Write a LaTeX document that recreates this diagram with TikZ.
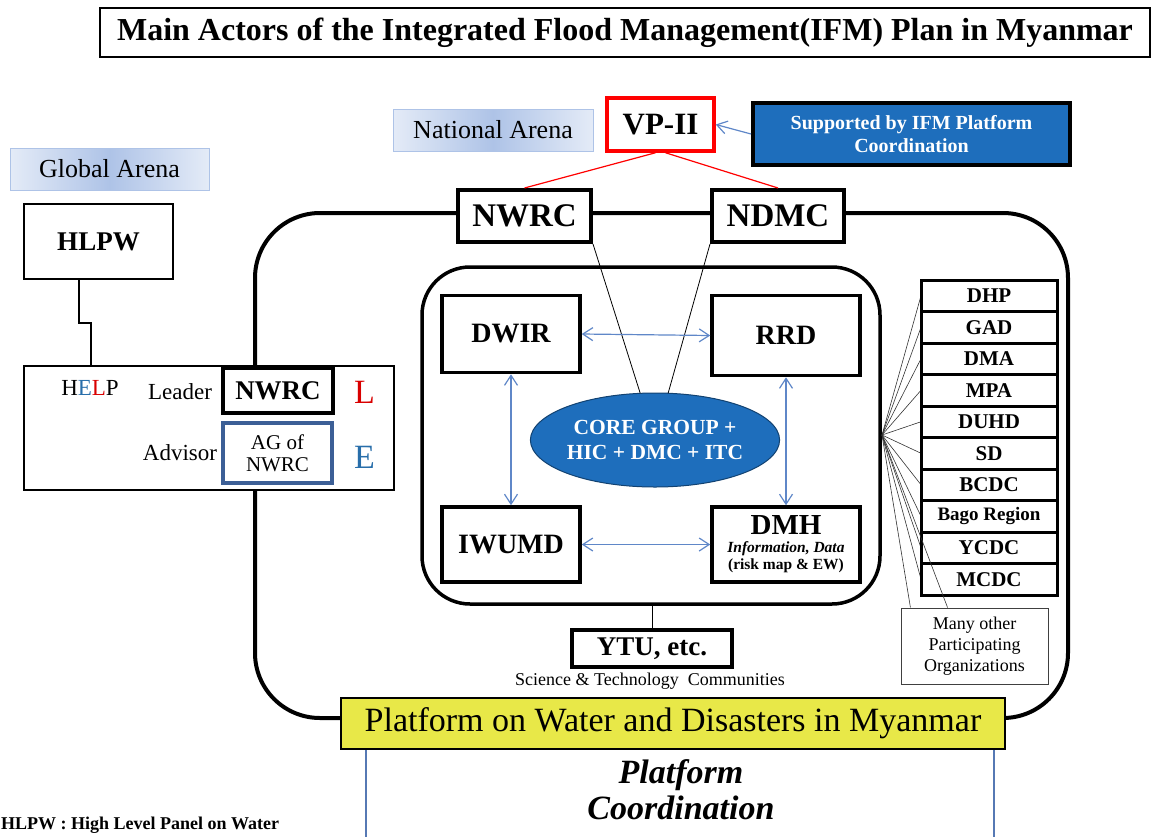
\documentclass[tikz,border=0pt]{standalone}
\usepackage{fontspec}
\setmainfont{Liberation Serif}
\usepackage{tikz}
\usetikzlibrary{arrows.meta, shapes.geometric}
\definecolor{ifmblue}{RGB}{30,110,188}
\definecolor{linkblue}{RGB}{95,135,200}
\definecolor{arenablue}{RGB}{120,155,215}
\definecolor{advblue}{RGB}{60,95,150}
\definecolor{eblue}{RGB}{40,110,170}
\definecolor{platyellow}{RGB}{232,232,72}
\colorlet{helpred}{red!85!black}
\newcommand{\fsz}[2]{\fontsize{#1}{#2}\selectfont}
\tikzset{>={Straight Barb[length=10pt,width=13pt]}}

\begin{document}
\begin{tikzpicture}[x=1pt, y=-1pt,
  box/.style={draw, fill=white, inner sep=0pt, align=center},
  bigbox/.style={box, line width=4pt, font=\fsz{33}{36}\bfseries},
  unit/.style={box, line width=3.5pt, font=\fsz{28}{30}\bfseries},
  org/.style={box, line width=3pt, minimum width=136pt, minimum height=31.5pt, font=\fsz{21}{22}\bfseries},
  arena/.style={draw=arenablue!60, line width=1pt, inner sep=0pt, minimum height=42pt,
    left color=arenablue!20, right color=arenablue!20, middle color=arenablue!60, font=\fsz{26}{28}},
  link/.style={linkblue, line width=1.2pt},
  fan/.style={black!80, line width=0.6pt}]

\useasboundingbox (0,0) rectangle (1157,836);

% Title
\node[box, line width=1.3pt, minimum width=1050pt, minimum height=49pt, font=\fsz{32}{34}\bfseries] (title) at (625,32.5)
  {Main Actors of the Integrated Flood Management(IFM) Plan in Myanmar};

% Outer platform frame and inner core frame
\draw[line width=4pt, rounded corners=65pt] (255,213) rectangle (1068,718);
\draw[line width=3.5pt, rounded corners=48pt] (422,267) rectangle (880,604);

% Arenas
\node[arena, minimum width=199pt] (global) at (109.5,169) {Global Arena};
\node[arena, minimum width=200pt] (national) at (493,130) {National Arena};

% Global side
\node[box, line width=1.5pt, minimum width=149pt, minimum height=75pt, font=\fsz{27}{29}\bfseries] (hlpw) at (98.5,241.5) {HLPW};
\node[box, line width=1.5pt, minimum width=370pt, minimum height=124pt] (help) at (209,428) {};
\node[font=\fsz{23}{24}] (helptxt) at (90,388) {H\textcolor{eblue}{E}\textcolor{helpred}{L}P};
\node[font=\fsz{23}{25}] (leader) at (180,392) {Leader};
\node[box, line width=4pt, minimum width=110pt, minimum height=45pt, font=\fsz{27}{29}\bfseries] (lead) at (278,390.5) {NWRC};
\node[font=\fsz{34}{36}, text=helpred] (ltxt) at (364.5,392) {L};
\node[font=\fsz{23}{25}] (advisor) at (180,453) {Advisor};
\node[box, draw=advblue, line width=4pt, minimum width=109pt, minimum height=60pt, font=\fsz{21}{22}] (ag) at (277.5,453) {AG of\\NWRC};
\node[font=\fsz{34}{36}, text=eblue] (etxt) at (364.5,457) {E};

\coordinate (jogtop) at (79,323);
\coordinate (jogbot) at (91,323);
\draw[line width=1.3pt] (hlpw.south -| jogtop) -- (jogtop) -- (jogbot) -- (help.north -| jogbot);

% National level
\node[box, draw=red, line width=3.5pt, minimum width=107pt, minimum height=53pt, font=\fsz{31}{33}\bfseries] (vp) at (660.5,124.5) {VP-II};
\node[box, fill=ifmblue, line width=4pt, minimum width=317pt, minimum height=62pt, text=white, font=\fsz{20}{23}\bfseries] (support) at (911.5,134)
  {Supported by IFM Platform\\Coordination};
\node[bigbox, minimum width=133pt, minimum height=52pt] (nwrc) at (524.5,216) {NWRC};
\node[bigbox, minimum width=132pt, minimum height=52pt] (ndmc) at (778,216) {NDMC};

\draw[link, ->] (support.west) -- (vp.east);
\draw[red, line width=1.2pt] (vp.-100) -- (nwrc.north);
\draw[red, line width=1.2pt] (vp.-80) -- (ndmc.north);

% Core group
\draw[line width=0.8pt] (nwrc.south east) -- (655,440);
\draw[line width=0.8pt] (ndmc.south west) -- (655,440);
\node[ellipse, fill=ifmblue, draw=ifmblue!60!black, line width=1pt, inner sep=0pt, minimum width=230pt, minimum height=94pt,
  text=white, align=center, font=\fsz{21.5}{25}\bfseries] (core) at (655,440) {CORE GROUP +\\HIC + DMC + ITC};

\node[unit, minimum width=138pt, minimum height=77pt] (dwir) at (511,334) {DWIR};
\node[unit, minimum width=148pt, minimum height=80pt] (rrd) at (786,335.5) {RRD};
\node[unit, minimum width=138pt, minimum height=75pt] (iwumd) at (511,544.5) {IWUMD};
\node[unit, minimum width=148pt, minimum height=75pt, font=\fsz{15.5}{17}\bfseries] (dmh) at (786,544.5)
  {{\fsz{29}{20}DMH}\\[1pt]{\itshape Information, Data}\\(risk map \& EW)};

\draw[link, <->] (dwir.east) -- (rrd.west);
\draw[link, <->] (dwir.south) -- (iwumd.north);
\draw[link, <->] (rrd.south) -- (dmh.north);
\draw[link, <->] (iwumd.east) -- (dmh.west);

% Science & technology
\coordinate (innerbot) at (652,604);
\node[unit, line width=3.5pt, minimum width=160pt, minimum height=37pt, font=\fsz{27}{29}\bfseries] (ytu) at (652,648.5) {YTU, etc.};
\draw[line width=0.8pt] (innerbot) -- (ytu.north);
\node[font=\fsz{18}{20}] (sci) at (650,681) {Science \& Technology~~Communities};

% Participating organizations
\coordinate (hub) at (882,435);
\foreach \name [count=\i] in {DHP,GAD,DMA,MPA,DUHD,SD,BCDC,\fsz{19}{20}Bago Region,YCDC,MCDC} {
  \draw[fan] (hub) -- (989-68, 280+31.5*\i-15.75);
  \node[org] (org\i) at (989, 280+31.5*\i-15.75) {\name};
}
\node[box, draw=black!75, line width=1pt, minimum width=147pt, minimum height=76pt, font=\fsz{18}{21}] (many) at (974.5,646)
  {Many other\\Participating\\Organizations};
\draw[fan] (hub) -- (many.149);
\draw[fan] (hub) -- (many.125);

% Platform
\node[box, draw=linkblue!90!black, line width=1.5pt, minimum width=628pt, minimum height=102pt] (coordbox) at (680,800) {};
\node[font=\fsz{34}{36}\bfseries\itshape, align=center] (coordtxt) at (681,790) {Platform\\Coordination};
\node[box, fill=platyellow, line width=1.5pt, minimum width=664pt, minimum height=51pt, font=\fsz{34}{36}] (platform) at (673,723.5)
  {Platform on Water and Disasters in Myanmar};

% Footnote
\node[anchor=south west, inner sep=0pt, font=\fsz{18}{20}\bfseries] (note) at (1,834) {HLPW : High Level Panel on Water};

\end{tikzpicture}
\end{document}
